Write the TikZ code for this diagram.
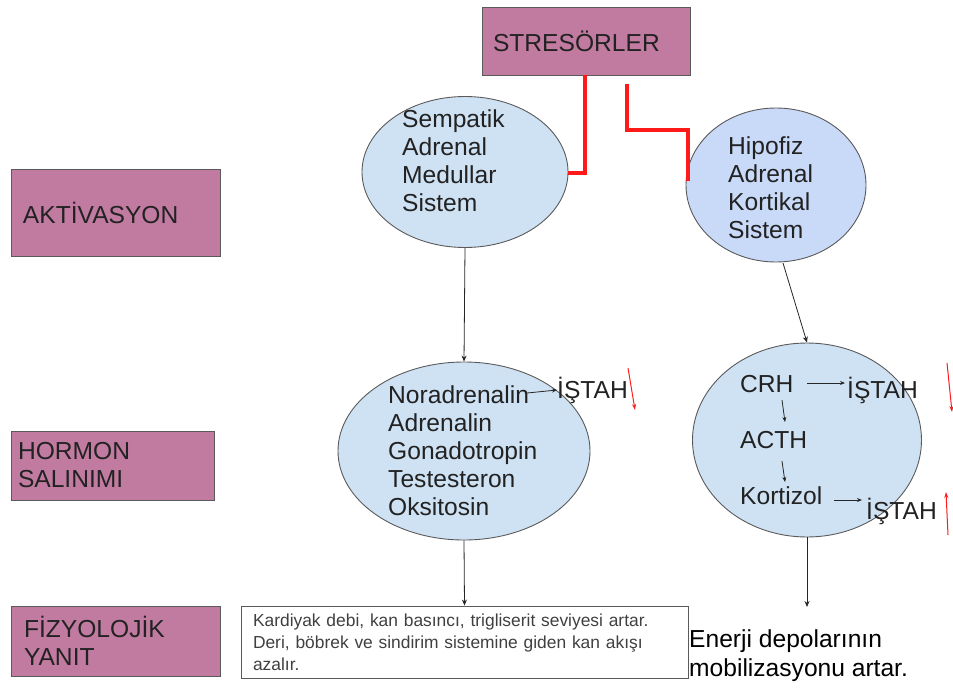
\documentclass[tikz,border=0pt]{standalone}
\usepackage{fontspec}
\setmainfont{Liberation Sans}
\usetikzlibrary{shapes.geometric,arrows.meta}
\definecolor{magbox}{HTML}{C27BA0}
\definecolor{ellA}{HTML}{CFE2F3}
\definecolor{ellB}{HTML}{C9DAF8}
\definecolor{edge}{HTML}{5A5A5A}
\definecolor{txt}{HTML}{222222}
\definecolor{redl}{HTML}{FF1A1A}
\begin{document}
\begin{tikzpicture}[x=1pt,y=-1pt,
  font=\fontsize{24.6}{28}\selectfont, text=txt,
  labelbox/.style={draw=edge, line width=0.9pt, fill=magbox, rectangle, align=left, inner ysep=0pt},
  ell/.style={draw=edge, line width=0.9pt, ellipse, inner sep=0pt},
  words/.style={anchor=west, align=left, inner sep=0pt},
  conn/.style={draw=black!85, line width=0.8pt, -{Stealth[length=6pt,width=5pt]}},
  redline/.style={draw=redl, line width=3.4pt},
  redarrow/.style={draw=redl, line width=1pt, -{Stealth[length=6pt,width=4pt]}}
]
\useasboundingbox (0,0) rectangle (953,688);

% label boxes
\node[labelbox, minimum width=208pt, minimum height=68pt, text width=186pt, inner xsep=11pt] (stres) at (586,41) {STRESÖRLER};
\node[labelbox, minimum width=209pt, minimum height=87pt, text width=185pt, inner xsep=12pt] (aktiv) at (115.5,213) {AKTİVASYON};
\node[labelbox, minimum width=203pt, minimum height=69pt, text width=189pt, inner xsep=7pt] (hormon) at (112.5,465.5) {HORMON\\SALINIMI};
\node[labelbox, minimum width=209pt, minimum height=70pt, text width=183pt, inner xsep=13pt] (fizyo) at (115.5,641) {FİZYOLOJİK\\YANIT};

% ellipses
\node[ell, fill=ellA, minimum width=206pt, minimum height=151pt] (e1) at (465,172) {};
\node[ell, fill=ellB, minimum width=180pt, minimum height=154pt] (e2) at (776,185) {};
\node[ell, fill=ellA, minimum width=252pt, minimum height=178pt] (e3) at (464,451) {};
\node[ell, fill=ellA, minimum width=229pt, minimum height=194pt] (e4) at (807,440) {};

% texts inside ellipses
\node[words] (t1) at (402,161) {Sempatik\\Adrenal\\Medullar\\Sistem};
\node[words] (t2) at (728,188) {Hipofiz\\Adrenal\\Kortikal\\Sistem};
\node[words] (t3) at (388,451) {Noradrenalin\\Adrenalin\\Gonadotropin\\Testesteron\\Oksitosin};
\node[words] (crh) at (740,384) {CRH};
\node[words] (acth) at (740,440) {ACTH};
\node[words] (kort) at (740,496) {Kortizol};
\node[words] (ist1) at (557,390) {İŞTAH};
\node[words] (ist2) at (847,390) {İŞTAH};
\node[words] (ist3) at (866,511) {İŞTAH};

% bottom response box
\node[draw=edge, line width=0.9pt, fill=white, rectangle, minimum width=447pt, minimum height=72pt,
      text width=423pt, inner xsep=12pt, align=left, text=black!75,
      font=\fontsize{17.4}{22}\selectfont] (kardi) at (464.5,642)
  {Kardiyak debi, kan basıncı, trigliserit seviyesi artar.\\Deri, böbrek ve sindirim sistemine giden kan akışı\\azalır.};
\node[anchor=west, align=left, inner sep=0pt, text=black, font=\fontsize{24.6}{29}\selectfont] (enerji) at (689,656)
  {Enerji depolarının\\mobilizasyonu artar.};

% red connectors from stressors
\coordinate (r1a) at (585,75);
\coordinate (r1b) at (585,173);
\draw[redline] (r1a) -- (r1b) -- (e1.east |- r1b);
\coordinate (r2a) at (627,84);
\coordinate (r2b) at (627,130);
\coordinate (r2c) at (688,130);
\coordinate (r2d) at (688,181);
\draw[redline] (r2a) -- (r2b) -- (r2c) -- (r2d);

% black connectors
\draw[conn] (e1.south) -- (e3.north);
\coordinate (e2b) at (783,263);
\draw[conn] (e2b) -- (e4.north);
\draw[conn] (e3.south) -- (kardi.north);
\coordinate (e4end) at (807,607);
\draw[conn] (e4.south) -- (e4end);

% small arrows inside ellipses
\coordinate (na) at (527,393);
\draw[conn, -{Stealth[length=5pt,width=4pt]}] (na) -- (ist1.west);
\coordinate (c1) at (807,383);
\draw[conn, -{Stealth[length=5pt,width=4pt]}] (c1) -- ([xshift=-2pt]c1 -| ist2.west);
\coordinate (a1) at (782,400);
\coordinate (a2) at (785,422);
\draw[conn, -{Stealth[length=5pt,width=4pt]}] (a1) -- (a2);
\coordinate (k1) at (782,461);
\coordinate (k2) at (785,482);
\draw[conn, -{Stealth[length=5pt,width=4pt]}] (k1) -- (k2);
\coordinate (k3) at (834,500);
\draw[conn, -{Stealth[length=5pt,width=4pt]}] (k3) -- ([xshift=-4pt]k3 -| ist3.west);

% red trend arrows
\coordinate (d1a) at (628,368);
\coordinate (d1b) at (635,410);
\draw[redarrow] (d1a) -- (d1b);
\coordinate (d2a) at (947,363);
\coordinate (d2b) at (952,412);
\draw[redarrow] (d2a) -- (d2b);
\coordinate (u1a) at (948,535);
\coordinate (u1b) at (946,492);
\draw[redarrow] (u1a) -- (u1b);
\end{tikzpicture}
\end{document}
